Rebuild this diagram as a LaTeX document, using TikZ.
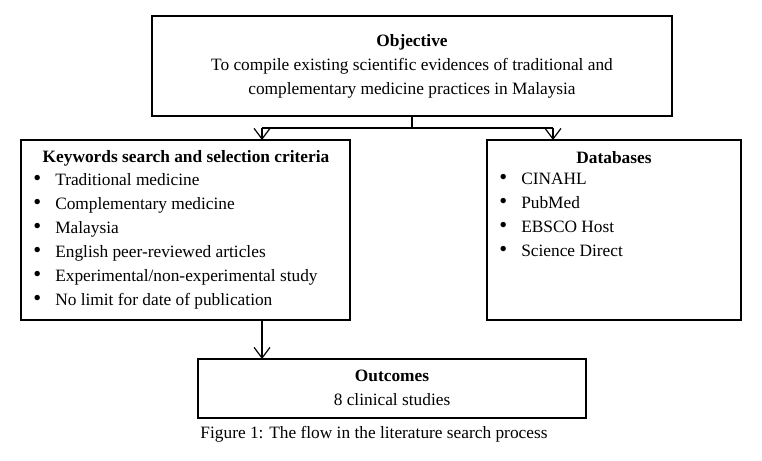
\documentclass[tikz,border=0pt]{standalone}
\usepackage{fontspec}
\setmainfont{Liberation Serif}
\usetikzlibrary{arrows.meta}
\tikzset{
	box/.style = {draw=black, line width=0.9pt},
	flow/.style = {line width=0.9pt, -{Straight Barb[length=8pt,width=12pt]}},
	txt/.style = {inner sep=0pt, font=\fontsize{13}{18}\selectfont}
}
\newcommand{\itm}[1]{\makebox[16.5pt][l]{\raisebox{0.2pt}{\scalebox{1.3}{\textbullet}}}#1}

\begin{document}
\begin{tikzpicture}[x=0.75pt,y=-0.75pt]
	\useasboundingbox (0,0) rectangle (762,460);

	% boxes
	\draw[box] (152,16) rectangle (672,116);
	\draw[box] (21,140) rectangle (350,320);
	\draw[box] (487,140) rectangle (741,320);
	\draw[box] (198,359) rectangle (586,418);

	\coordinate (objBot) at (412,116);
	\coordinate (split) at (412,128);
	\coordinate (kwTop) at (262,140);
	\coordinate (dbTop) at (553,140);
	\coordinate (kwBot) at (262,320);
	\coordinate (outTop) at (262,359);

	% texts
	\node (objective) [txt, align=center] at (412,66)
	{\textbf{Objective}\\
	To compile existing scientific evidences of traditional and\\
	complementary medicine practices in Malaysia};

	\node (keywordsTitle) [txt] at (186,158) {\textbf{Keywords search and selection criteria}};
	\node (keywords) [txt, align=left, anchor=north west] at (33,173)
	{\itm{Traditional medicine}\\
	\itm{Complementary medicine}\\
	\itm{Malaysia}\\
	\itm{English peer-reviewed articles}\\
	\itm{Experimental/non-experimental study}\\
	\itm{No limit for date of publication}};

	\node (databasesTitle) [txt] at (614,158) {\textbf{Databases}};
	\node (databases) [txt, align=left, anchor=north west] at (499,173)
	{\itm{CINAHL}\\
	\itm{PubMed}\\
	\itm{EBSCO Host}\\
	\itm{Science Direct}};

	\node (outcomes) [txt, align=center] at (392,388)
	{\textbf{Outcomes}\\8 clinical studies};

	\node (caption) [txt] at (374,434) {Figure 1: The flow in the literature search process};

	% connectors
	\draw[line width=0.9pt] (objBot) -- (split) -| (kwTop |- split) -- (split -| dbTop);
	\draw[flow] (split -| kwTop) -- (kwTop);
	\draw[flow] (split -| dbTop) -- (dbTop);
	\draw[flow] (kwBot) -- (outTop);
\end{tikzpicture}
\end{document}
